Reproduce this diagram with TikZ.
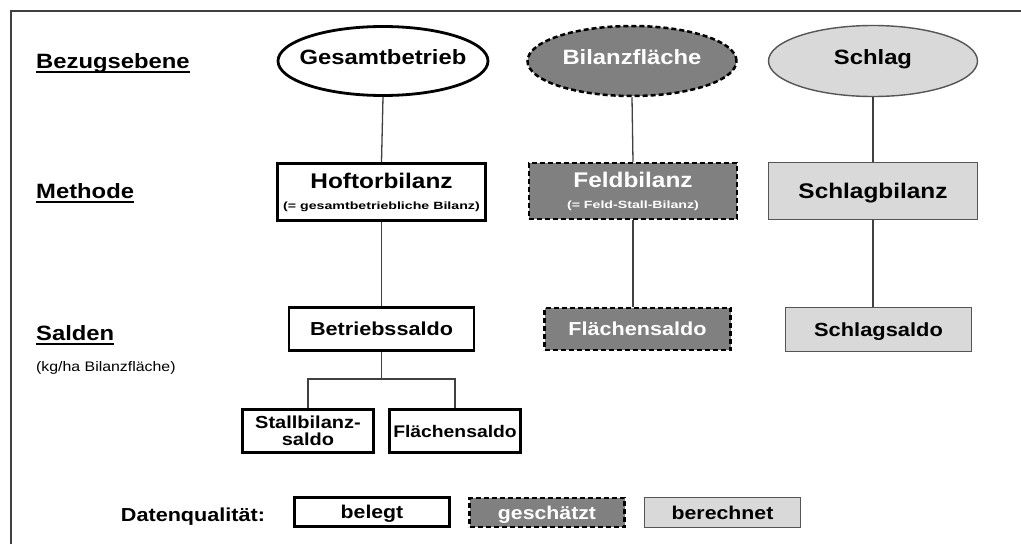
\documentclass[tikz,border=0pt]{standalone}
\usepackage{fontspec}
\setmainfont{Liberation Sans}[FakeStretch=1.15]
\newfontfamily\widefont{Liberation Sans}[FakeStretch=1.35]
\usetikzlibrary{shapes.geometric}
\definecolor{midgray}{HTML}{808080}
\definecolor{lightfill}{HTML}{D9D9D9}
\definecolor{linegray}{HTML}{404040}
\definecolor{bordergray}{HTML}{555555}
\newcommand{\myfs}[1]{\fontsize{#1}{#1}\selectfont}
\tikzset{
  lbl/.style={inner sep=0pt, font=\bfseries\myfs{20.7}, anchor=base west},
  oval/.style={ellipse, inner sep=0pt, font=\bfseries\myfs{20.7}, text height=15pt, text depth=9pt},
  capline/.style={text height=#1, text depth=0pt, inner sep=0pt},
  solidbox/.style={draw=black, line width=2.8pt, fill=white},
  estbox/.style={draw=black, line width=2.5pt, dash pattern=on 5pt off 3pt, fill=midgray, text=white},
  calcbox/.style={draw=bordergray, line width=1.4pt, fill=lightfill},
  conn/.style={draw=linegray, line width=1.3pt},
  frameline/.style={draw=linegray, line width=2pt},
  uline/.style={draw=black, line width=1.8pt},
}
\begin{document}
\begin{tikzpicture}[x=1pt, y=-1pt]
\useasboundingbox (0,0) rectangle (1021,544);
\fill[white] (0,0) rectangle (1021,544);
% frame
\coordinate (fl) at (11,544);
\coordinate (fc) at (11,11);
\coordinate (fr) at (1021,11);
\draw[frameline] (fl) -- (fc) -- (fr);

% row labels
\node[lbl] (l1) at (36,68) {Bezugsebene};
\node[lbl] (l2) at (36,198) {Methode};
\node[lbl] (l3) at (36,340) {Salden};
\node[inner sep=0pt, anchor=base west, font=\myfs{13.8}] (l4) at (36,371) {(kg/ha Bilanzfläche)};
\foreach \n in {l1,l2,l3}{
  \draw[uline] ([yshift=-4pt]\n.base west) -- ([yshift=-4pt]\n.base east);
}

% ellipses
\node[oval, solidbox, minimum width=210, minimum height=69] (e1) at (383,61) {\makebox[0pt]{Gesamtbetrieb}};
\node[oval, estbox, minimum width=209, minimum height=70] (e2) at (632,61) {\makebox[0pt]{Bilanzfläche}};
\node[oval, calcbox, minimum width=209, minimum height=71] (e3) at (873,61) {\makebox[0pt]{Schlag}};

% method boxes
\node[solidbox, minimum width=208, minimum height=57, align=center, inner sep=0pt, font=\myfs{19}] (b1) at (381.5,192)
  {{\bfseries\myfs{21.2}Hoftorbilanz}\\[2pt]{\widefont\bfseries\myfs{10.5}(= gesamtbetriebliche Bilanz)}};
\node[estbox, minimum width=208, minimum height=56, align=center, inner sep=0pt, font=\myfs{19}] (b2) at (633,191)
  {{\bfseries\myfs{21.2}Feldbilanz}\\[2pt]{\widefont\bfseries\myfs{10.5}(= Feld-Stall-Bilanz)}};
\node[calcbox, capline=15.2pt, minimum width=209, minimum height=57, font=\bfseries\myfs{21.2}] (b3) at (873,191) {Schlagbilanz};

% balance boxes
\node[solidbox, capline=13.5pt, minimum width=185, minimum height=43, font=\bfseries\myfs{18.8}] (c1) at (381.5,329) {Betriebssaldo};
\node[estbox, capline=13.5pt, minimum width=186, minimum height=42, font=\bfseries\myfs{18.8}] (c2) at (637.5,329) {Flächensaldo};
\node[calcbox, capline=13.6pt, minimum width=186, minimum height=44, font=\bfseries\myfs{19}] (c3) at (878.5,329.5) {Schlagsaldo};

% children
\node[solidbox, minimum width=131, minimum height=43, align=center, inner sep=0pt, font=\bfseries\myfs{17.4}] (d1) at (308,431)
  {Stallbilanz-\\saldo};
\node[solidbox, capline=12pt, minimum width=131, minimum height=43, font=\bfseries\myfs{16.8}] (d2) at (455,431) {Flächensaldo};

% connectors
\draw[conn] (e1.south) -- (b1.north);
\draw[conn] (b1.south) -- (c1.north);
\draw[conn] (e2.south) -- (b2.north);
\draw[conn] (b2.south) -- (b2.south |- c2.north);
\draw[conn] (e3.south) -- (b3.north);
\draw[conn] (b3.south) -- (b3.south |- c3.north);
\coordinate (j) at (381.5,379);
\draw[conn] (c1.south) -- (j);
\draw[conn] (d1.north) |- (j) -| (d2.north);

% legend
\node[inner sep=0pt, anchor=base, font=\bfseries\myfs{18.8}] (dq) at (193,521) {Datenqualität:};
\node[solidbox, capline=13.3pt, minimum width=155, minimum height=29, font=\bfseries\myfs{18.5}] (f1) at (372,512) {belegt};
\node[estbox, capline=13.3pt, minimum width=155, minimum height=29, font=\bfseries\myfs{18.5}] (f2) at (547,512.5) {geschätzt};
\node[calcbox, capline=13.3pt, minimum width=156, minimum height=30, font=\bfseries\myfs{18.5}] (f3) at (722.5,512.5) {berechnet};
\end{tikzpicture}
\end{document}
